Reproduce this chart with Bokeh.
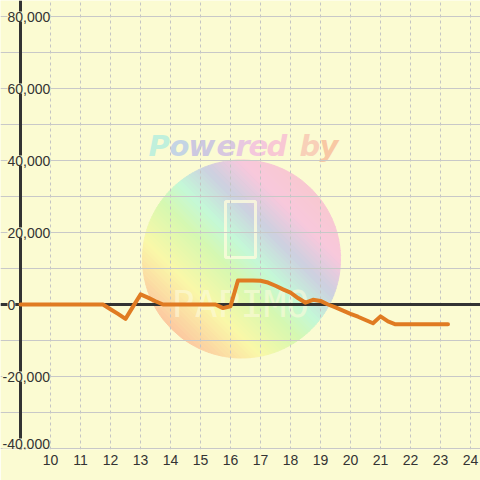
import math
from bokeh.plotting import figure
from bokeh.models import Range1d, FixedTicker, SingleIntervalTicker, Span, Label
from bokeh.core.properties import value
from bokeh.embed import file_html
from bokeh.resources import INLINE

# ---- data ----
hours = [9.0, 9.25, 9.5, 9.75, 10.0, 10.25, 10.5, 10.75, 11.0, 11.25, 11.5, 11.75,
         12.0, 12.25, 12.5, 12.75, 13.0, 13.25, 13.5, 13.75,
         14.0, 14.25, 14.5, 14.75, 15.0, 15.25, 15.5, 15.75, 16.0,
         16.25, 16.5, 16.75, 17.0, 17.25, 17.5, 17.75, 18.0, 18.25, 18.5, 18.75,
         19.0, 19.25, 19.5, 19.75, 20.0, 20.25, 20.5, 20.75, 21.0, 21.25, 21.5,
         21.75, 22.0, 22.25, 22.5, 22.75, 23.0, 23.25]
values = [0, 0, 0, 0, 0, 0, 0, 0, 0, 0, 0, 0,
          -1300, -2600, -4000, -600, 2800, 1900, 900, 0,
          0, 0, 0, 0, 0, 0, 0, -1000, -500,
          6700, 6700, 6700, 6600, 6100, 5200, 4200, 3300, 1800, 500, 1300,
          1000, 0, -800, -1700, -2600, -3400, -4300, -5200, -3300, -4700, -5500,
          -5500, -5500, -5500, -5500, -5500, -5500, -5500]
x_ticks = [10, 11, 12, 13, 14, 15, 16, 17, 18, 19, 20, 21, 22, 23, 24]
x_tick_labels = [str(t) for t in x_ticks]
y_ticks = [80000, 60000, 40000, 20000, 0, -20000, -40000]
y_tick_labels = ["80,000", "60,000", "40,000", "20,000", "0", "-20,000", "-40,000"]
watermark_title = "Powered by"
watermark_logo = "PAPIMO"

BG = "#fbfbd2"
INK = "#333333"
LINE = "#e07b22"
CREAM = "#fdfbdc"
FONT = "Liberation Sans"

W, H = 480, 480
FRAME_H = 449
PX_PER_X = 30.0
PX_PER_Y = 72.0 / 20000.0
X0 = 9 - 20 / PX_PER_X
X1 = X0 + W / PX_PER_X
Y1 = 80000 + 16 / PX_PER_Y
Y0 = Y1 - FRAME_H / PX_PER_Y

p = figure(width=W, height=H, output_backend="svg", toolbar_location=None,
           x_range=Range1d(X0, X1), y_range=Range1d(Y0, Y1),
           min_border_left=0, min_border_right=0, min_border_top=0,
           min_border_bottom=H - FRAME_H)
p.background_fill_color = BG
p.border_fill_color = BG
p.outline_line_color = None

# x axis
p.xaxis.ticker = FixedTicker(ticks=x_ticks)
p.xaxis.major_label_overrides = {t: l for t, l in zip(x_ticks, x_tick_labels)}
p.xaxis.axis_line_color = None
p.xaxis.major_tick_line_color = None
p.xaxis.minor_tick_line_color = None
p.xaxis.major_tick_out = 0
p.xaxis.major_tick_in = 0
p.xaxis.major_label_standoff = 5
p.xaxis.major_label_text_font = FONT
p.xaxis.major_label_text_font_size = "14px"
p.xaxis.major_label_text_color = INK
p.yaxis.visible = False

# grids
p.xgrid.ticker = SingleIntervalTicker(interval=1)
p.xgrid.grid_line_color = "#c4c4c4"
p.xgrid.grid_line_dash = "3 3"
p.xgrid.grid_line_width = 1
p.ygrid.ticker = SingleIntervalTicker(interval=10000)
p.ygrid.grid_line_color = "#c8c8c8"
p.ygrid.grid_line_width = 1

# ---- watermark (decorative) ----
def px_to_data(px, py):
    return X0 + px / PX_PER_X, Y1 - py / PX_PER_Y

stops = [(0.00, (252, 200, 160)), (0.22, (250, 248, 168)), (0.42, (214, 248, 176)),
         (0.55, (196, 248, 216)), (0.70, (204, 208, 224)), (0.85, (248, 200, 220)),
         (1.00, (248, 200, 208))]

def grad(f):
    for (a, ca), (b, cb) in zip(stops[:-1], stops[1:]):
        if a <= f <= b:
            k = (f - a) / (b - a)
            c = [round(ca[i] + (cb[i] - ca[i]) * k) for i in range(3)]
            return "#%02x%02x%02x" % tuple(c)
    return "#%02x%02x%02x" % stops[-1][1]

cx, cy, R = 241.0, 258.5, 99.0
ux, uy = 1 / math.sqrt(2), -1 / math.sqrt(2)
vx, vy = 1 / math.sqrt(2), 1 / math.sqrt(2)
N = 60
xs_list, ys_list, cols = [], [], []
for i in range(N):
    t0 = -R + 2 * R * i / N
    t1 = t0 + 2 * R / N
    ts = [t0 + (t1 - t0) * k / 4 for k in range(5)]
    pts = []
    for t in ts:
        s = math.sqrt(max(R * R - t * t, 0))
        pts.append((cx + t * ux + s * vx, cy + t * uy + s * vy))
    for t in reversed(ts):
        s = math.sqrt(max(R * R - t * t, 0))
        pts.append((cx + t * ux - s * vx, cy + t * uy - s * vy))
    d = [px_to_data(a, b) for a, b in pts]
    xs_list.append([q[0] for q in d])
    ys_list.append([q[1] for q in d])
    cols.append(grad((t0 + t1) / 2 / (2 * R) + 0.5))
p.patches(xs_list, ys_list, fill_color=cols, line_color=cols, line_width=1,
          level="image")

# phone outline and logo text (faint)
phx, phy = px_to_data(240, 229)
p.rect([phx], [phy], width=30 / PX_PER_X, height=56 / PX_PER_Y,
       fill_color=None, line_color=CREAM, line_width=3, line_alpha=0.8,
       level="image")
lgx, lgy = px_to_data(240, 303)
p.text([lgx], [lgy], text=[watermark_logo], text_color=CREAM, text_alpha=0.6,
       text_font=value("DejaVu Sans Mono"), text_font_size="38px",
       text_align="center", text_baseline="alphabetic", level="image")

letter_x = [148, 169, 188, 216, 235, 248, 266, 299, 319]
letter_cols = ["#c0f0dc", "#c4d4e4", "#ccc8e0", "#d8c8e0", "#e8c8e0", "#f4c8dc",
               "#f8c8d4", "#f8d0b8", "#f8c8a4"]
letters = [c for c in watermark_title if c != " "]
lx, ly = [], []
for px in letter_x:
    a, b = px_to_data(px, 145)
    lx.append(a)
    ly.append(b)
p.text(lx, ly, text=letters, text_color=letter_cols, text_font=value("DejaVu Sans"),
       text_font_style="bold italic", text_font_size="29px",
       text_align="left", text_baseline="alphabetic", level="image")

# axis lines
p.add_layout(Span(location=0, dimension="width", line_color=INK, line_width=3,
                  level="underlay"))
p.add_layout(Span(location=9, dimension="height", line_color=INK, line_width=3,
                  level="underlay"))

# data line
p.line(hours, values, line_color=LINE, line_width=4, line_join="round",
       line_cap="round")

# y labels
for v, lab in zip(y_ticks, y_tick_labels):
    off = 2 if lab.startswith("-") else 7
    p.add_layout(Label(x=X0 + off / PX_PER_X, y=v, text=lab, text_font=FONT,
                       text_font_size="14px", text_color=INK, text_align="left",
                       text_baseline="bottom" if v == min(y_ticks) else "middle",
                       background_fill_color=BG, background_fill_alpha=1.0))

open("out.html", "w").write(file_html(p, INLINE))
